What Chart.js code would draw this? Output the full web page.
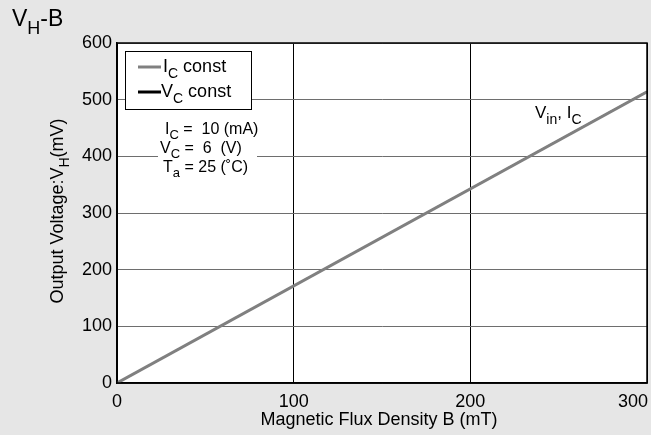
<!DOCTYPE html>
<html>
<head>
<meta charset="utf-8">
<script src="https://cdn.jsdelivr.net/npm/chart.js@4.4.0/dist/chart.umd.min.js"></script>
<style>
    html, body { margin: 0; padding: 0; background: #e6e6e6; }
    #wrap { width: 651px; height: 435px; }
</style>
</head>
<body>
<div id="wrap"><canvas id="chart" width="651" height="435"></canvas></div>
<script>
// data
const fluxB = [0, 300];          // mT
const vhIc = [0, 514];           // mV, Ic const
const vhVc = [0, 514];           // mV, Vc const (same line, hidden under the grey one)
const xTickVals = [0, 100, 200, 300];
const yTickVals = [0, 100, 200, 300, 400, 500, 600];

const FONT = '"Liberation Sans", Arial, Helvetica, sans-serif';

// draw text with subscripts: parts = [[text, isSub], ...]
function drawParts(ctx, parts, x, y, size, align) {
    const subSize = Math.round(size * 0.8);
    let total = 0;
    parts.forEach(([t, sub]) => {
        ctx.font = (sub ? subSize : size) + 'px ' + FONT;
        total += ctx.measureText(t).width;
    });
    let cx = x;
    if (align === 'center') cx = x - total / 2;
    if (align === 'right') cx = x - total;
    ctx.textAlign = 'left';
    ctx.textBaseline = 'alphabetic';
    parts.forEach(([t, sub]) => {
        ctx.font = (sub ? subSize : size) + 'px ' + FONT;
        ctx.fillText(t, cx, sub ? y + size * 0.33 : y);
        cx += ctx.measureText(t).width;
    });
}

const points = (xs, ys) => xs.map((x, i) => ({ x: x, y: ys[i] }));

const decorPlugin = {
    id: 'decor',
    beforeDraw(chart) {
        const { ctx, chartArea: a } = chart;
        ctx.save();
        ctx.fillStyle = '#ffffff';
        ctx.fillRect(a.left, a.top, a.right - a.left, a.bottom - a.top);
        ctx.restore();
    },
    afterDraw(chart) {
        const { ctx, chartArea: a } = chart;
        const xs = chart.scales.x;
        ctx.save();
        ctx.fillStyle = '#000';

        // frame
        ctx.strokeStyle = '#000';
        ctx.lineWidth = 1.5;
        ctx.strokeRect(a.left, a.top, a.right - a.left, a.bottom - a.top);

        // x tick labels (last one kept inside the canvas)
        ctx.font = '18px ' + FONT;
        ctx.textAlign = 'center';
        ctx.textBaseline = 'alphabetic';
        xTickVals.forEach(v => {
            const label = String(v);
            const w = ctx.measureText(label).width;
            let px = xs.getPixelForValue(v);
            px = Math.min(px, chart.width - 3 - w / 2);
            ctx.fillText(label, px, a.bottom + 24);
        });

        // x title
        drawParts(ctx, [['Magnetic Flux Density B (mT)', 0]], (a.left + a.right) / 2 - 3, 425, 18, 'center');

        // y title
        ctx.save();
        ctx.translate(63, (a.top + a.bottom) / 2 - 2);
        ctx.rotate(-Math.PI / 2);
        drawParts(ctx, [['Output Voltage:V', 0], ['H', 1], ['(mV)', 0]], 0, 0, 18, 'center');
        ctx.restore();

        // chart title
        drawParts(ctx, [['V', 0], ['H', 1], ['-B', 0]], 12, 26, 23, 'left');

        // legend box
        ctx.fillStyle = '#fff';
        ctx.fillRect(125.5, 51.5, 126, 58);
        ctx.strokeStyle = '#000';
        ctx.lineWidth = 1;
        ctx.strokeRect(125.5, 51.5, 126, 58);
        ctx.lineWidth = 3;
        ctx.strokeStyle = '#808080';
        ctx.beginPath(); ctx.moveTo(138, 67); ctx.lineTo(161, 67); ctx.stroke();
        ctx.strokeStyle = '#000';
        ctx.beginPath(); ctx.moveTo(138, 92); ctx.lineTo(161, 92); ctx.stroke();
        ctx.fillStyle = '#000';
        drawParts(ctx, [['I', 0], ['C', 1], [' const', 0]], 163, 72, 18, 'left');
        drawParts(ctx, [['V', 0], ['C', 1], [' const', 0]], 161, 97, 18, 'left');

        // conditions
        ctx.fillStyle = '#fff';
        ctx.fillRect(158, 117, 99, 62);
        ctx.fillStyle = '#000';
        drawParts(ctx, [['I', 0], ['C', 1], [' =  10 (mA)', 0]], 165, 134, 16, 'left');
        drawParts(ctx, [['V', 0], ['C', 1], [' =  6  (V)', 0]], 160, 153, 16, 'left');
        drawParts(ctx, [['T', 0], ['a', 1], [' = 25 (\u02DAC)', 0]], 163, 172, 16, 'left');

        // curve label
        drawParts(ctx, [['V', 0], ['in', 1], [', I', 0], ['C', 1]], 535, 118, 17, 'left');

        ctx.restore();
    }
};

new Chart(document.getElementById('chart'), {
    type: 'scatter',
    data: {
        datasets: [
            {
                label: 'Ic const',
                data: points(fluxB, vhIc),
                showLine: true,
                borderColor: '#808080',
                borderWidth: 3,
                pointRadius: 0,
                order: 0
            },
            {
                label: 'Vc const',
                data: points(fluxB, vhVc),
                showLine: true,
                borderColor: '#000000',
                borderWidth: 1.5,
                pointRadius: 0,
                order: 1
            }
        ]
    },
    options: {
        responsive: false,
        animation: false,
        devicePixelRatio: 1,
        layout: { padding: { top: 43, right: 4, bottom: 0, left: 0 } },
        plugins: {
            legend: { display: false },
            tooltip: { enabled: false }
        },
        scales: {
            x: {
                type: 'linear',
                min: 0,
                max: 300,
                afterBuildTicks: (s) => { s.ticks = xTickVals.map(v => ({ value: v })); },
                ticks: { display: false },
                grid: { color: '#000', lineWidth: 1, drawTicks: false },
                border: { color: '#000', width: 1.5 },
                afterFit: (s) => { s.height = 52; s.paddingLeft = 0; s.paddingRight = 0; }
            },
            y: {
                min: 0,
                max: 600,
                afterBuildTicks: (s) => { s.ticks = yTickVals.map(v => ({ value: v })); },
                ticks: {
                    color: '#000',
                    padding: 5,
                    font: { family: FONT, size: 18 }
                },
                grid: { color: '#6e6e6e', lineWidth: 1, drawTicks: false },
                border: { color: '#000', width: 1.5 },
                afterFit: (s) => { s.width = 117; s.paddingTop = 0; s.paddingBottom = 0; }
            }
        }
    },
    plugins: [decorPlugin]
});
</script>
</body>
</html>
